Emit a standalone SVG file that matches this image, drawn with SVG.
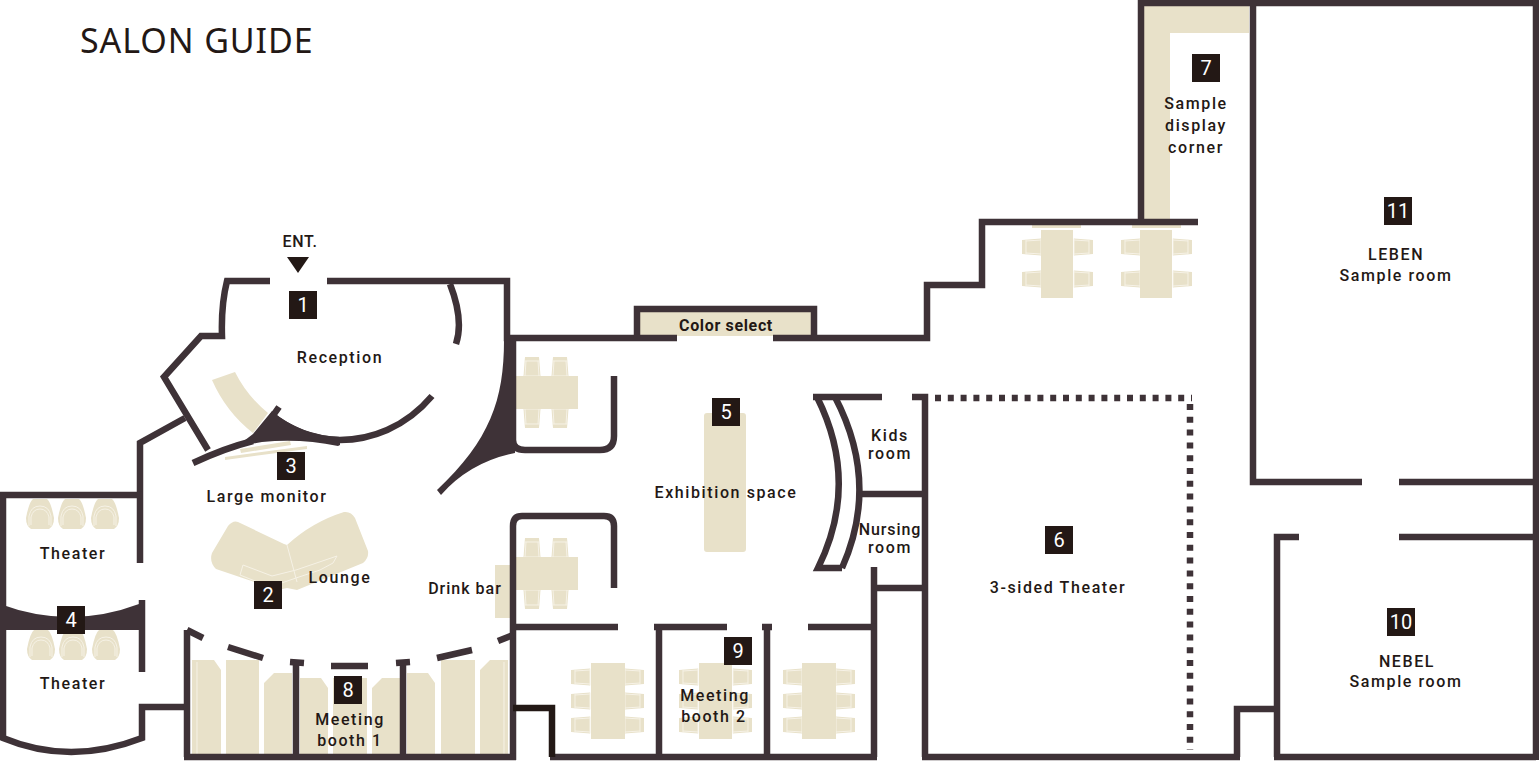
<svg xmlns="http://www.w3.org/2000/svg" width="1539" height="761" viewBox="0 0 1539 761">
<style>
.w{fill:none;stroke:#3e3237;stroke-width:6.5;stroke-miterlimit:10}
.k{fill:none;stroke:#231815;stroke-width:6.5}
.d{fill:#3e3237}
.b{fill:#e8e1c9}
.l{fill:none;stroke:#f6f2e6;stroke-width:1}
.n{fill:#231815}
.nt{font-family:"Roboto","Liberation Sans",sans-serif;font-size:20px;fill:#fff;text-anchor:middle}
.t{font-family:"Roboto","Liberation Sans",sans-serif;font-size:16px;font-weight:500;fill:#231815;text-anchor:middle;letter-spacing:1.6px}
</style>
<defs>
<g id="chair"><path class="b" d="M-10,-7 L9,-8.5 V8.5 L-10,7 Z"/><path class="l" d="M-6,-7.5 V7.5 M-6,-6 L9,-7 M-6,6 L9,7 M9,-8.5 V8.5"/></g>
<g id="seat"><path class="b" d="M-7,-15 H7 Q11,-12 14,4 Q14,12 9,15 H-9 Q-14,12 -14,4 Q-11,-12 -7,-15 Z"/><path class="l" d="M-11,12 V2 Q-9,-8 0,-8 Q9,-8 11,2 V12 M-9,11 V3 Q-7,-5 0,-5 Q7,-5 9,3 V11"/></g>
</defs>
<rect width="1539" height="761" fill="#fff"/>

<g id="furniture">
<path class="b" d="M212,380 L235,372 Q247,396 268,413 L253,433 Q226,412 212,380 Z"/>
<path class="b" d="M240,449 L290,441 L291,445 L241,453 Z M225,457 L307,446 L307,449 L225,460 Z"/>
<path class="b" d="M238,522 Q233,520 228,526 L212,553 Q209,562 216,569 L278,590 L287,588 L297,590 L363,563 Q369,558 368,551 L355,518 Q351,511 344,512 Q312,522 287,545 L284,544 Z"/>
<path class="l" d="M287,545 L297,582 M243,565 L240,575 L270,587 L296,578 L320,570 L333,563 L337,556 L296,570 M243,565 L272,576 L296,570"/>
<path class="b" d="M637,312 H814 V336 H637 Z M704,416 Q704,413 707,413 H743 Q746,413 746,416 V549 Q746,552 743,552 H707 Q704,552 704,549 Z"/>
<path class="b" d="M1144,6 H1249 V33 H1170 V220 H1144 Z"/>
<path class="b" d="M1032,225 H1081 V228 H1032 Z M1132,225 H1181 V228 H1132 Z"/>
<use href="#chair" transform="translate(1032,247)"/><use href="#chair" transform="translate(1032,279)"/><use href="#chair" transform="translate(1083,247) scale(-1,1)"/><use href="#chair" transform="translate(1083,279) scale(-1,1)"/>
<use href="#chair" transform="translate(1131,247)"/><use href="#chair" transform="translate(1131,279)"/><use href="#chair" transform="translate(1182,247) scale(-1,1)"/><use href="#chair" transform="translate(1182,279) scale(-1,1)"/>
<path class="b" d="M1041,230 H1073 V298 H1041 Z M1140,230 H1172 V298 H1140 Z"/>
<use href="#chair" transform="translate(532,367) rotate(90)"/><use href="#chair" transform="translate(560,367) rotate(90)"/><use href="#chair" transform="translate(532,418) rotate(-90)"/><use href="#chair" transform="translate(560,418) rotate(-90)"/>
<use href="#chair" transform="translate(532,548) rotate(90)"/><use href="#chair" transform="translate(560,548) rotate(90)"/><use href="#chair" transform="translate(532,599) rotate(-90)"/><use href="#chair" transform="translate(560,599) rotate(-90)"/>
<path class="b" d="M515,376 H578 V409 H515 Z M515,557 H578 V590 H515 Z M495,565 H513 V618 H495 Z"/>
<use href="#chair" transform="translate(581,677)"/><use href="#chair" transform="translate(581,701)"/><use href="#chair" transform="translate(581,725)"/>
<use href="#chair" transform="translate(634,677) scale(-1,1)"/><use href="#chair" transform="translate(634,701) scale(-1,1)"/><use href="#chair" transform="translate(634,725) scale(-1,1)"/>
<use href="#chair" transform="translate(689,677)"/><use href="#chair" transform="translate(689,701)"/><use href="#chair" transform="translate(689,725)"/>
<use href="#chair" transform="translate(742,677) scale(-1,1)"/><use href="#chair" transform="translate(742,701) scale(-1,1)"/><use href="#chair" transform="translate(742,725) scale(-1,1)"/>
<use href="#chair" transform="translate(793,677)"/><use href="#chair" transform="translate(793,701)"/><use href="#chair" transform="translate(793,725)"/>
<use href="#chair" transform="translate(845,677) scale(-1,1)"/><use href="#chair" transform="translate(845,701) scale(-1,1)"/><use href="#chair" transform="translate(845,725) scale(-1,1)"/>
<path class="b" d="M591,663 H625 V739 H591 Z M699,663 H732 V739 H699 Z M802,663 H836 V739 H802 Z"/>
<use href="#seat" x="40" y="514"/><use href="#seat" x="72" y="514"/><use href="#seat" x="105" y="514"/>
<use href="#seat" x="41" y="645"/><use href="#seat" x="73" y="645"/><use href="#seat" x="106" y="645"/>
<path class="b" d="M192,660 H214 L221,670 V757 H192 Z M226,660 H259 V754 H226 Z M274,673 H292 V754 H264 V683 Z M300,678 H321 L328,688 V757 H300 Z M333,678 H367 V757 H333 Z M382,678 H400 V757 H372 V688 Z M407,673 H428 L435,683 V754 H407 Z M441,660 H475 V754 H441 Z M490,660 H508 V757 H480 V670 Z"/>
<path class="l" d="M197,662 V755 M504,662 V755" stroke-width="2"/>
</g>

<g id="walls">
<path class="w" d="M270,281 H227 Q221,305 222,336 H201 L164,377 L208,450"/>
<path class="w" d="M327,281 H507 V338 H677 M773,338 H927 V285 H982 V222 H1198 M1141,222 V3 H1539"/>
<path class="w" d="M637,338 V309 H814 V338"/>
<path class="w" d="M1253,3 V482 H1362 M1399,482 H1536 M1536,0 V760 M1399,537 H1536 M1299,537 H1277 V757 M1536,757 H1274 M1277,709 H1237 V757 M1240,757 H922 M925,757 V397 H912"/>
<path class="w" d="M882,397 H813 M857,494 H925 M874,588 H925 M874,567 V757 M877,757 H550"/>
<path class="w" d="M817,397 Q860,483 818,568 H842 M835,397 Q880,483 842,568"/>
<path class="w" d="M876,627 H808 M772,627 H762 M767,627 V757 M727,627 H654 M659,627 V757 M618,627 H513"/>
<path class="w" d="M614,376 V436 Q614,450 600,450 H525 Q513,450 513,440 V338"/>
<path class="w" d="M614,588 V526 Q614,516 604,516 H522 Q513,516 513,526 V760"/>
<path class="k" d="M513,708 H552 V757"/>
<path class="w" d="M185,418 L140,443 V563"/>
<path class="w" d="M0,495 H142 M3,495 V606 M3,628 V738 Q70,766 142,738 V707 H187 M142,600 V672"/>
<path class="d" d="M0,604 Q70,630 139,604 L145,600 V630 H0 Z"/>
<path class="w" d="M187,630 V757 M184,757 H516 M296,662 V757 M403,662 V757"/>
<path class="w" d="M187,630 L203,638 M228,647 L263,658 M290,662 L304,663 M331,666 H368 M396,663 L410,662 M437,658 L472,650 M498,641 L513,635"/>
<path class="w" d="M432,396 C405,428 370,440 340,440 C315,440 295,432 273,417 M279,407 L265,427 M450,284 Q464,320 456,344 M193,463 Q225,448 253,441"/>
<path class="d" d="M253,434 L272,411 Q300,435 340,437 L340,445 L338,446 Q300,438 262,442 Q240,446 236,447 Z"/>
<path class="d" d="M504,340 C504,400 490,440 437,490 L441,495 Q470,462 515,453 V340 Z"/>
<path class="w" d="M935,398 H1192" stroke-dasharray="6 6.8"/>
<path class="w" d="M1190,404 V750" stroke-dasharray="6 6.8"/>
</g>

<g id="labels">
<path class="n" d="M287,257 H309 L298,273 Z"/>
<text class="t" x="300" y="247" style="letter-spacing:.6px">ENT.</text>
<text x="80" y="53" style="font-family:'Noto Sans','Open Sans',sans-serif;font-size:34px;fill:#231815;letter-spacing:.9px">SALON GUIDE</text>
<text class="t" x="340" y="363">Reception</text>
<text class="t" x="267" y="502">Large monitor</text>
<text class="t" x="340" y="583">Lounge</text>
<text class="t" x="465" y="594" style="letter-spacing:1px">Drink bar</text>
<text class="t" x="73" y="559">Theater</text>
<text class="t" x="73" y="689">Theater</text>
<text class="t" x="350" y="725">Meeting</text>
<text class="t" x="350" y="746">booth 1</text>
<text class="t" x="726" y="331" style="letter-spacing:.65px;font-weight:700">Color select</text>
<text class="t" x="726" y="498">Exhibition space</text>
<text class="t" x="890" y="441">Kids</text>
<text class="t" x="890" y="459">room</text>
<text class="t" x="890" y="535" style="letter-spacing:.9px">Nursing</text>
<text class="t" x="890" y="553">room</text>
<text class="t" x="715" y="701">Meeting</text>
<text class="t" x="714" y="722">booth 2</text>
<text class="t" x="1058" y="593">3-sided Theater</text>
<text class="t" x="1196" y="109">Sample</text>
<text class="t" x="1196" y="131">display</text>
<text class="t" x="1196" y="153">corner</text>
<text class="t" x="1396" y="260">LEBEN</text>
<text class="t" x="1396" y="281">Sample room</text>
<text class="t" x="1407" y="667">NEBEL</text>
<text class="t" x="1406" y="687">Sample room</text>
</g>

<g id="n1"><rect class="n" x="289" y="291" width="28" height="28"/><text class="nt" x="303" y="312">1</text></g>
<g id="n2"><rect class="n" x="254" y="581" width="28" height="28"/><text class="nt" x="268" y="602">2</text></g>
<g id="n3"><rect class="n" x="277" y="452" width="28" height="28"/><text class="nt" x="291" y="473">3</text></g>
<g id="n4"><rect class="n" x="57" y="606" width="28" height="28"/><text class="nt" x="71" y="627">4</text></g>
<g id="n5"><rect class="n" x="712" y="398" width="28" height="28"/><text class="nt" x="726" y="419">5</text></g>
<g id="n6"><rect class="n" x="1045" y="526" width="28" height="28"/><text class="nt" x="1059" y="547">6</text></g>
<g id="n7"><rect class="n" x="1192" y="54" width="28" height="28"/><text class="nt" x="1206" y="75">7</text></g>
<g id="n8"><rect class="n" x="334" y="676" width="28" height="28"/><text class="nt" x="348" y="697">8</text></g>
<g id="n9"><rect class="n" x="724" y="637" width="28" height="28"/><text class="nt" x="738" y="658">9</text></g>
<g id="n10"><rect class="n" x="1387" y="608" width="28" height="28"/><text class="nt" x="1401" y="629">10</text></g>
<g id="n11"><rect class="n" x="1384" y="197" width="28" height="28"/><text class="nt" x="1398" y="218">11</text></g>
</svg>
